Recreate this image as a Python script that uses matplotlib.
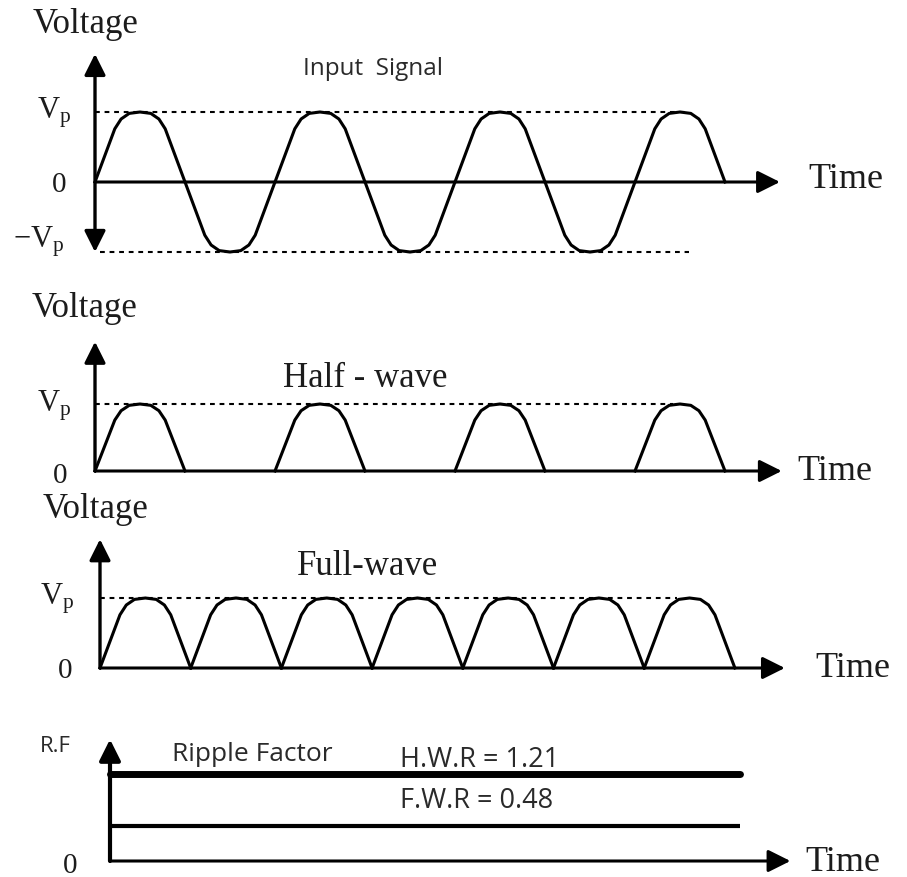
import numpy as np
import matplotlib
matplotlib.use("Agg")
import matplotlib.pyplot as plt
from matplotlib.transforms import Affine2D

plt.rcParams["mathtext.fontset"] = "custom"
plt.rcParams["mathtext.rm"] = "Liberation Serif"

SERIF = "Liberation Serif"
SANS = "Open Sans"

# one half-cycle of the drawn wave (fraction of half period, fraction of Vp)
half_t = [0, 0.22, 0.29, 0.38, 0.5, 0.62, 0.71, 0.78, 1.0]
half_v = [0, 0.76, 0.90, 0.98, 1.0, 0.98, 0.90, 0.76, 0]

# sign of each half-cycle in the three voltage plots
input_signs = [1, -1, 1, -1, 1, -1, 1]
half_wave_signs = [1, 0, 1, 0, 1, 0, 1]
full_wave_signs = [1, 1, 1, 1, 1, 1, 1]

# ripple factor values
rf_names = ["H.W.R", "F.W.R"]
rf_values = [1.21, 0.48]
rf_widths = [5.0, 3.0]

W, H = 907, 878
fig = plt.figure(figsize=(W / 100, H / 100), dpi=100)
pix = Affine2D().scale(1 / W, -1 / H).translate(0, 1) + fig.transFigure


def label(x, y, s, size, family=SERIF, color="#1c1c1c", **kw):
    fig.text(x, y, s, transform=pix, fontsize=size, family=family,
             color=color, va="baseline", **kw)


def panel(x0, y0, xunit, yunit):
    ax = fig.add_axes([0, 0, 1, 1])
    ax.set_xlim(-x0 / xunit, (W - x0) / xunit)
    ax.set_ylim((y0 - H) / yunit, y0 / yunit)
    ax.axis("off")
    return ax


def arrow(ax, start, end, both=False, lw=2.4, ms=32):
    style = "<|-|>" if both else "-|>"
    ax.annotate("", xy=end, xytext=start,
                arrowprops=dict(arrowstyle=style + ",head_length=0.4,head_width=0.2",
                                lw=lw, color="k", mutation_scale=ms,
                                shrinkA=0, shrinkB=0),
                annotation_clip=False)


def draw_wave(ax, signs):
    for k, s in enumerate(signs):
        if s == 0:
            continue
        ax.plot(k + np.array(half_t), s * np.array(half_v), color="k",
                lw=2.2, solid_joinstyle="round", clip_on=False)


dots = dict(color="k", lw=1.5, linestyle=(0, (2.3, 2.3)), clip_on=False)
sans_col = "#2a2a2a"

# --- input signal
ax1 = panel(95, 183, 90, 70)
ax1.plot([0, 6.6], [1, 1], **dots)
ax1.plot([0.05, 6.6], [-1, -1], **dots)
draw_wave(ax1, input_signs)
arrow(ax1, (0, 0), (7.61, 0), lw=2.2, ms=34)
arrow(ax1, (0, -1.0), (0, 1.83), both=True)
label(33, 33, "Voltage", 25)
label(303, 75, "Input  Signal", 17.5, family=SANS, color=sans_col)
label(37, 118, r"$\mathregular{V_p}$", 22)
label(52, 192, "0", 21)
label(13, 248, r"$\mathregular{-V_p}$", 22)
label(808, 188, "Time", 26)

# --- half-wave output
ax2 = panel(95, 472, 90, 67)
ax2.plot([0, 6.42], [1, 1], **dots)
draw_wave(ax2, half_wave_signs)
arrow(ax2, (0, 0), (7.63, 0), lw=2.2, ms=34)
arrow(ax2, (0, 0), (0, 1.93))
label(32, 317, "Voltage", 25)
label(283, 387, "Half - wave", 25)
label(37, 412, r"$\mathregular{V_p}$", 22)
label(53, 483, "0", 21)
label(797, 480, "Time", 26)

# --- full-wave output
ax3 = panel(100, 669, 90.7, 70)
ax3.plot([0, 6.36], [1, 1], **dots)
draw_wave(ax3, full_wave_signs)
arrow(ax3, (0, 0), (7.55, 0), lw=2.2, ms=34)
arrow(ax3, (0, 0), (0, 1.84))
label(43, 518, "Voltage", 25)
label(297, 575, "Full-wave", 25)
label(40, 605, r"$\mathregular{V_p}$", 22)
label(58, 678, "0", 21)
label(815, 677, "Time", 26)

# --- ripple factor
ax4 = panel(110, 862, 90, 72)
for name, val, w in zip(rf_names, rf_values, rf_widths):
    ax4.plot([0, 7.0], [val, val], color="k", lw=w,
             solid_capstyle="round" if w > 4 else "butt", clip_on=False)
arrow(ax4, (0, 0), (7.56, 0), lw=2.2, ms=34)
arrow(ax4, (0, 0), (0, 1.69), lw=3)
label(40, 752, "R.F", 16, family=SANS, color=sans_col)
label(172, 761, "Ripple Factor", 19, family=SANS, color=sans_col)
label(400, 767, "%s = %.2f" % (rf_names[0], rf_values[0]), 19.5, family=SANS, color=sans_col)
label(400, 808, "%s = %.2f" % (rf_names[1], rf_values[1]), 19.5, family=SANS, color=sans_col)
label(63, 873, "0", 21)
label(805, 871, "Time", 26)

fig.savefig("out.png", dpi=100)
